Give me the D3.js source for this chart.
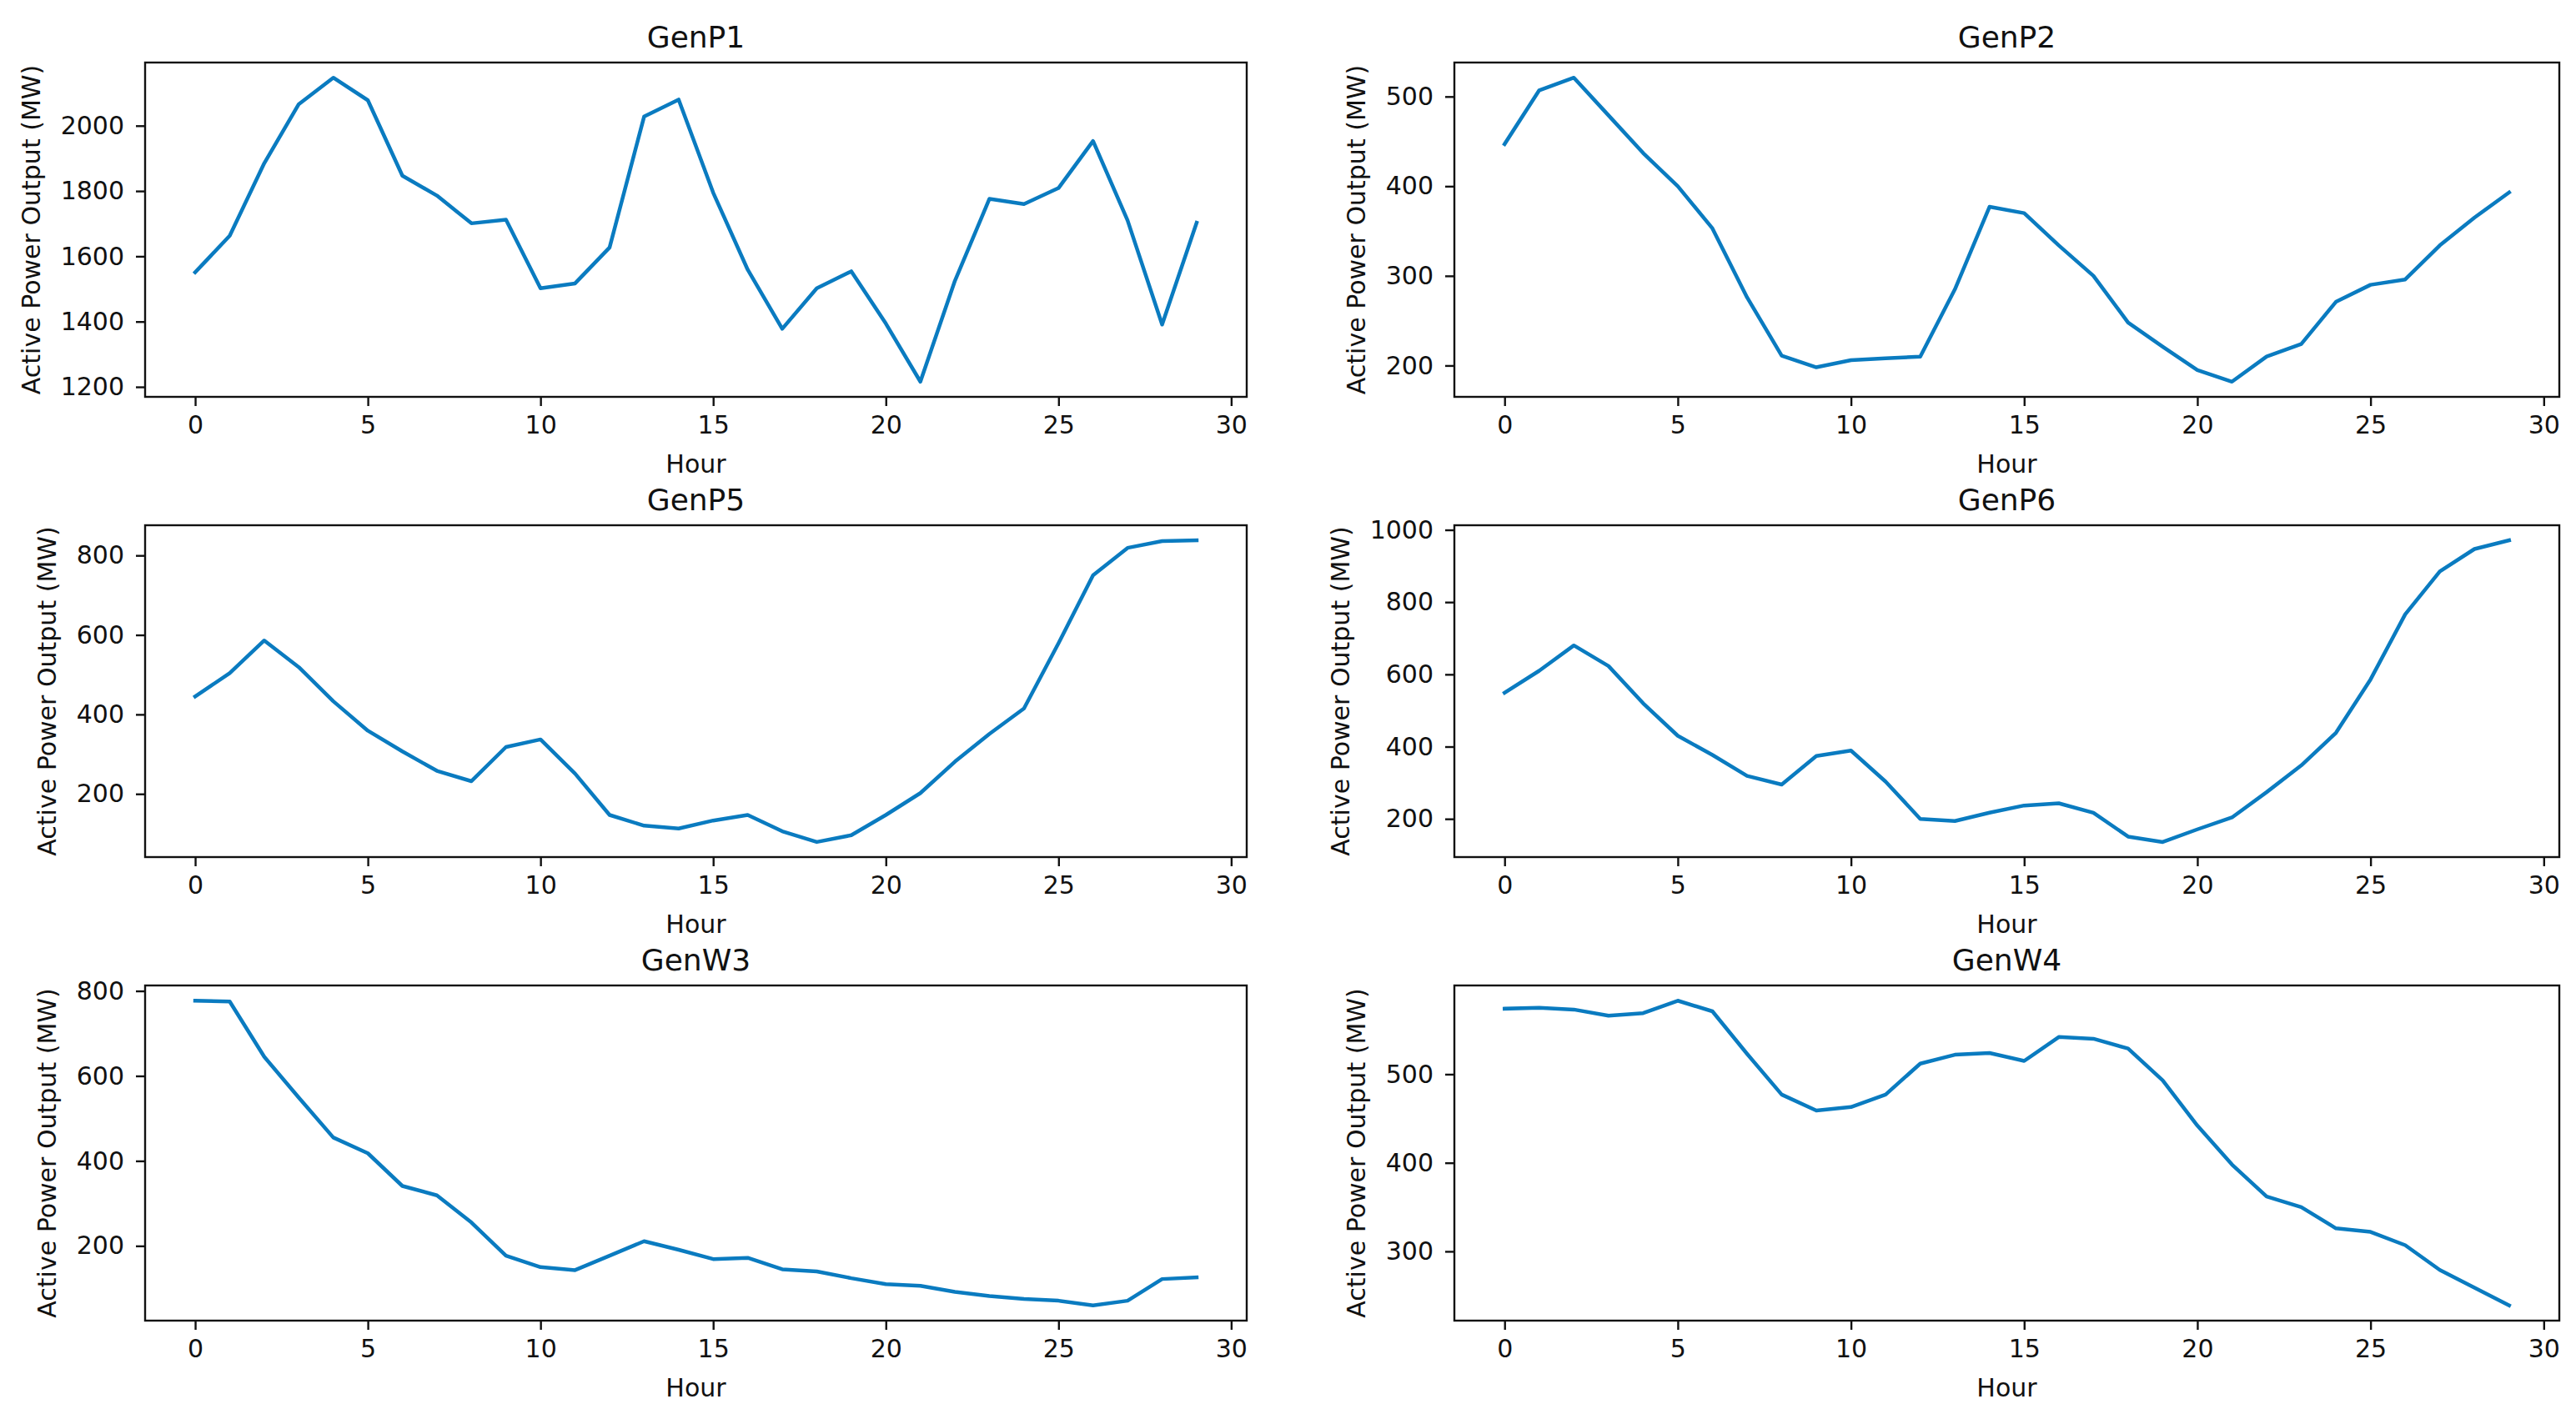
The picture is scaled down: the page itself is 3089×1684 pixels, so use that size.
<!DOCTYPE html>
<html>
<head>
<meta charset="utf-8">
<script src="https://cdn.jsdelivr.net/npm/d3@7"></script>
<style>
  html, body { margin: 0; padding: 0; background: #fff; }
  svg { display: block; }
  text { font-family: 'DejaVu Sans', sans-serif; fill: #111; }
</style>
</head>
<body>
<svg id="chart"></svg>
<script>
// ── Data ─────────────────────────────────────────────────────
const hours = d3.range(30);

const genP1 = [1551, 1663, 1885, 2066, 2147, 2078, 1847, 1786, 1701, 1712,
               1502, 1517, 1627, 2028, 2080, 1795, 1559, 1378, 1502, 1554,
               1394, 1216, 1525, 1776, 1760, 1809, 1953, 1710, 1391, 1703];
const genP2 = [447, 507, 521, 479, 437, 400, 353, 276, 211, 198,
               206, 208, 210, 285, 377, 370, 334, 300, 248, 221,
               195, 182, 210, 224, 271, 290, 296, 334, 365, 393];
const genP5 = [445, 504, 586, 519, 433, 359, 307, 258, 232, 318,
               337, 251, 147, 120, 113, 133, 147, 106, 79, 96,
               147, 202, 281, 351, 415, 579, 750, 819, 836, 838];
const genP6 = [549, 610, 680, 623, 520, 430, 377, 319, 295, 374,
               389, 303, 200, 194, 217, 237, 243, 217, 151, 136,
               171, 204, 274, 348, 438, 586, 766, 885, 947, 971];
const genW3 = [777, 775, 645, 549, 455, 418, 341, 319, 255, 177,
               150, 143, 177, 211, 191, 169, 172, 145, 140, 124,
               110, 106, 92, 82, 75, 71, 60, 71, 122, 126];
const genW4 = [574, 575, 573, 566, 569, 583, 571, 523, 477, 459,
               463, 477, 512, 522, 524, 515, 542, 540, 529, 493,
               442, 398, 362, 350, 326, 322, 307, 279, 259, 239];

const titles = ['GenP1', 'GenP2', 'GenP5', 'GenP6', 'GenW3', 'GenW4'];
const series = [genP1, genP2, genP5, genP6, genW3, genW4];

const xTicks = [0, 5, 10, 15, 20, 25, 30];
const yTicks = [
  [1200, 1400, 1600, 1800, 2000],
  [200, 300, 400, 500],
  [200, 400, 600, 800],
  [200, 400, 600, 800, 1000],
  [200, 400, 600, 800],
  [300, 400, 500]
];

const xLabel = 'Hour';
const yLabel = 'Active Power Output (MW)';

// ── Layout ───────────────────────────────────────────────────
const W = 3089, H = 1684;
const COLS = [[174, 1495], [1744, 3069]];
const ROWS = [[75, 476], [630, 1028], [1182, 1584]];
const LINE_COLOR = '#0a7bc0';
const TICK_FS = 30, LABEL_FS = 30, TITLE_FS = 36;

const svg = d3.select('#chart').attr('width', W).attr('height', H);

series.forEach((vals, i) => {
  const [x0, x1] = COLS[i % 2];
  const [y0, y1] = ROWS[Math.floor(i / 2)];

  const ext = d3.extent(vals);
  const pad = (ext[1] - ext[0]) * 0.05;

  const x = d3.scaleLinear().domain([-1.45, 30.45]).range([x0, x1]);
  const y = d3.scaleLinear().domain([ext[0] - pad, ext[1] + pad]).range([y1, y0]);

  const g = svg.append('g').attr('class', 'panel');

  // line
  const line = d3.line().x((d, k) => x(hours[k])).y(d => y(d));
  g.append('path')
    .datum(vals)
    .attr('fill', 'none')
    .attr('stroke', LINE_COLOR)
    .attr('stroke-width', 4.5)
    .attr('stroke-linejoin', 'round')
    .attr('stroke-linecap', 'square')
    .attr('d', line);

  // x axis
  const xAxis = g.append('g')
    .attr('transform', `translate(0,${y1})`)
    .call(d3.axisBottom(x).tickValues(xTicks).tickSize(11).tickPadding(12).tickFormat(d3.format('d')));
  xAxis.select('.domain').remove();
  xAxis.selectAll('line').attr('stroke', '#111').attr('stroke-width', 2.4);
  xAxis.selectAll('text').attr('font-size', TICK_FS).attr('font-family', "'DejaVu Sans', sans-serif").attr('fill', '#111');

  // y axis
  const yAxis = g.append('g')
    .attr('transform', `translate(${x0},0)`)
    .call(d3.axisLeft(y).tickValues(yTicks[i]).tickSize(11).tickPadding(14).tickFormat(d3.format('d')));
  yAxis.select('.domain').remove();
  yAxis.selectAll('line').attr('stroke', '#111').attr('stroke-width', 2.4);
  yAxis.selectAll('text').attr('font-size', TICK_FS).attr('font-family', "'DejaVu Sans', sans-serif").attr('fill', '#111');

  // frame
  g.append('rect')
    .attr('x', x0).attr('y', y0)
    .attr('width', x1 - x0).attr('height', y1 - y0)
    .attr('fill', 'none')
    .attr('stroke', '#111')
    .attr('stroke-width', 2.4);

  // title
  g.append('text')
    .attr('x', (x0 + x1) / 2)
    .attr('y', y0 - 18)
    .attr('text-anchor', 'middle')
    .attr('font-size', TITLE_FS)
    .text(titles[i]);

  // x label
  g.append('text')
    .attr('x', (x0 + x1) / 2)
    .attr('y', y1 + 91)
    .attr('text-anchor', 'middle')
    .attr('font-size', LABEL_FS)
    .text(xLabel);

  // y label, placed left of the widest tick label
  let tickLeft = x0;
  yAxis.selectAll('text').each(function() {
    const b = this.getBBox();
    const gx = x0 + b.x;
    if (gx < tickLeft) tickLeft = gx;
  });
  const bx = tickLeft - 25;
  g.append('text')
    .attr('transform', `translate(${bx},${(y0 + y1) / 2}) rotate(-90)`)
    .attr('text-anchor', 'middle')
    .attr('font-size', LABEL_FS)
    .text(yLabel);
});
</script>
</body>
</html>
